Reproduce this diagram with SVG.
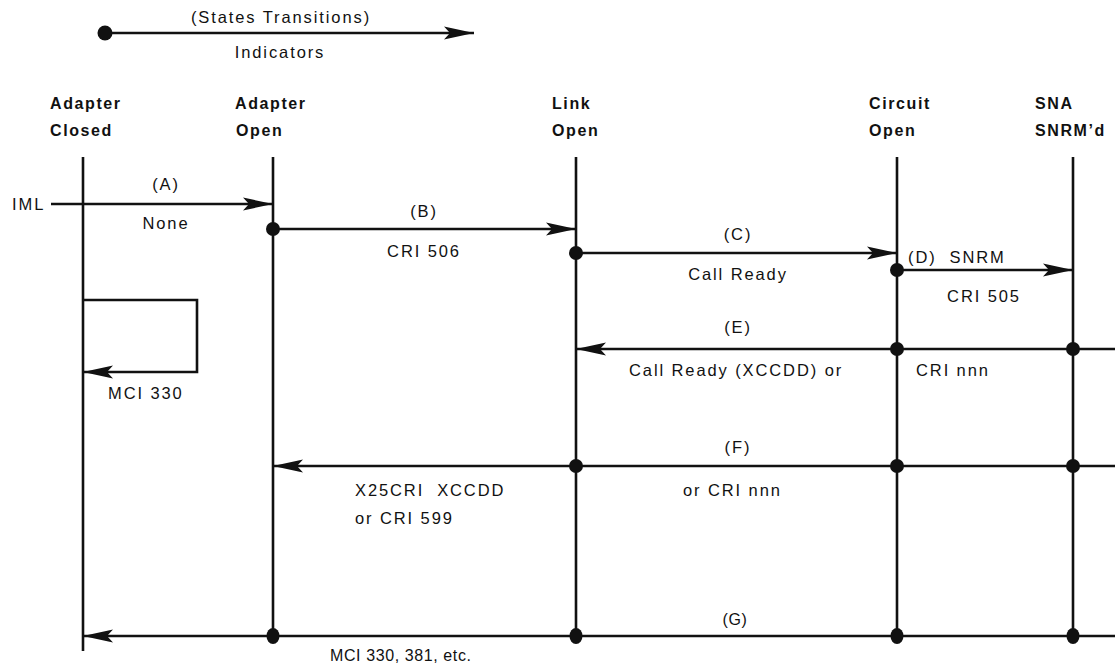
<svg xmlns="http://www.w3.org/2000/svg" width="1115" height="667" viewBox="0 0 1115 667">
<style>
.hdr{font-family:"Liberation Sans",Arial,sans-serif;font-weight:bold;font-size:16px;letter-spacing:1.6px;fill:#111}
.lbl{font-family:"Liberation Sans",Arial,sans-serif;font-size:16.5px;letter-spacing:1.9px;fill:#111}
.cnd{font-family:"Liberation Sans",Arial,sans-serif;font-size:16px;letter-spacing:0.6px;fill:#111}
.mid{text-anchor:middle}
.life{stroke:#111;stroke-width:2.6;fill:none}
.conn{stroke:#111;stroke-width:2.6;fill:none}
.dot{fill:#111}
</style>
<defs>
<marker id="ah" markerUnits="userSpaceOnUse" markerWidth="32" markerHeight="16" refX="30" refY="8" orient="auto">
<path d="M0,1.5 L30,8 L0,14.5 L6,8 z" fill="#111"/>
</marker>
</defs>
<rect width="1115" height="667" fill="#fff"/>

<g id="legend">
<line class="conn" x1="105" y1="33" x2="474" y2="33" marker-end="url(#ah)"/>
<circle class="dot" cx="105" cy="33" r="7.5"/>
<text class="lbl mid" x="281" y="23">(States Transitions)</text>
<text class="lbl mid" x="280" y="58">Indicators</text>
</g>

<g id="adapter-closed">
<text class="hdr" x="50" y="109">Adapter</text>
<text class="hdr" x="50" y="136">Closed</text>
<line class="life" x1="83" y1="157" x2="83" y2="651"/>
</g>
<g id="adapter-open">
<text class="hdr" x="235" y="109">Adapter</text>
<text class="hdr" x="236" y="136">Open</text>
<line class="life" x1="273" y1="157" x2="273" y2="636"/>
</g>
<g id="link-open">
<text class="hdr" x="552" y="109">Link</text>
<text class="hdr" x="552" y="136">Open</text>
<line class="life" x1="576" y1="157" x2="576" y2="636"/>
</g>
<g id="circuit-open">
<text class="hdr" x="869" y="109">Circuit</text>
<text class="hdr" x="869" y="136">Open</text>
<line class="life" x1="897" y1="157" x2="897" y2="636"/>
</g>
<g id="sna-snrmd">
<text class="hdr" x="1035" y="109">SNA</text>
<text class="hdr" x="1035" y="136">SNRM’d</text>
<line class="life" x1="1073" y1="157" x2="1073" y2="636"/>
</g>

<g id="connectors">
<!-- A -->
<text class="lbl" x="12" y="210">IML</text>
<line class="conn" x1="51" y1="204" x2="273" y2="204" marker-end="url(#ah)"/>
<text class="lbl mid" x="166" y="190">(A)</text>
<text class="lbl mid" x="166" y="229">None</text>
<!-- B -->
<line class="conn" x1="273" y1="229" x2="576" y2="229" marker-end="url(#ah)"/>
<circle class="dot" cx="273" cy="229" r="7"/>
<text class="lbl mid" x="424" y="217">(B)</text>
<text class="lbl mid" x="424" y="257">CRI 506</text>
<!-- C -->
<line class="conn" x1="576" y1="253" x2="897" y2="253" marker-end="url(#ah)"/>
<circle class="dot" cx="576" cy="253" r="7"/>
<text class="lbl mid" x="738" y="240">(C)</text>
<text class="lbl mid" x="738" y="280">Call Ready</text>
<!-- D -->
<line class="conn" x1="897" y1="270" x2="1073" y2="270" marker-end="url(#ah)"/>
<circle class="dot" cx="897" cy="270" r="7"/>
<text class="lbl" x="908" y="263" xml:space="preserve">(D)  SNRM</text>
<text class="lbl mid" x="984" y="302">CRI 505</text>
<!-- loop -->
<path class="conn" d="M83,300 H197 V372 H83" marker-end="url(#ah)"/>
<text class="lbl" x="108" y="399">MCI 330</text>
<!-- E -->
<line class="conn" x1="1115" y1="349" x2="576" y2="349" marker-end="url(#ah)"/>
<circle class="dot" cx="897" cy="349" r="7"/>
<circle class="dot" cx="1073" cy="349" r="7"/>
<text class="lbl mid" x="738" y="333">(E)</text>
<text class="lbl" x="629" y="376">Call Ready (XCCDD) or</text>
<text class="lbl" x="916" y="376">CRI nnn</text>
<!-- F -->
<line class="conn" x1="1115" y1="466" x2="273" y2="466" marker-end="url(#ah)"/>
<circle class="dot" cx="576" cy="466" r="7"/>
<circle class="dot" cx="897" cy="466" r="7"/>
<circle class="dot" cx="1073" cy="466" r="7"/>
<text class="lbl mid" x="738" y="453">(F)</text>
<text class="lbl" x="355" y="496" xml:space="preserve">X25CRI  XCCDD</text>
<text class="lbl" x="355" y="524">or CRI 599</text>
<text class="lbl" x="683" y="496">or CRI nnn</text>
<!-- G -->
<line class="conn" x1="1115" y1="636" x2="83" y2="636" marker-end="url(#ah)"/>
<ellipse class="dot" cx="273" cy="636" rx="6.5" ry="8"/>
<ellipse class="dot" cx="576" cy="636" rx="6.5" ry="8"/>
<ellipse class="dot" cx="897" cy="636" rx="6.5" ry="8"/>
<ellipse class="dot" cx="1073" cy="636" rx="6.5" ry="8"/>
<text class="cnd mid" x="735" y="625">(G)</text>
<text class="cnd" x="330" y="661">MCI 330, 381, etc.</text>
</g>
</svg>
